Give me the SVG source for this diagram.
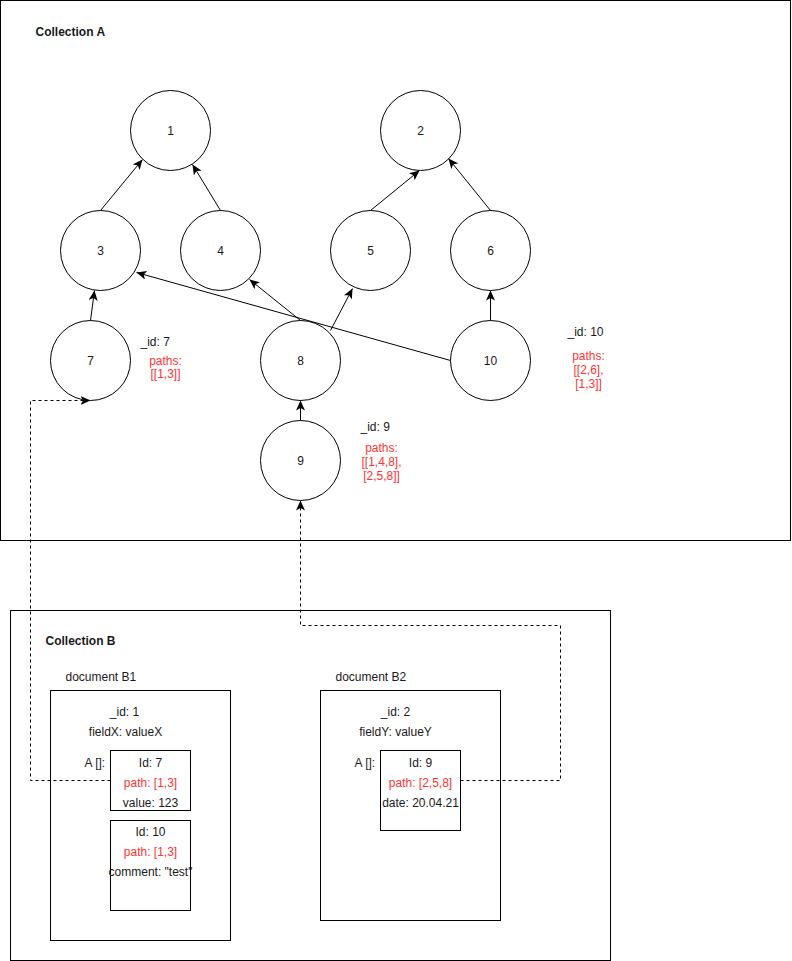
<svg xmlns="http://www.w3.org/2000/svg" width="792" height="961" viewBox="0 0 792 961">
<style>
  .box{fill:#fff;stroke:#000;stroke-width:1}
  .node{fill:#fff;stroke:#000;stroke-width:1}
  .t{font-family:"Liberation Sans",Arial,sans-serif;font-size:12px;fill:#1a1a1a}
  .b{font-weight:bold}
  .m{text-anchor:middle}
  .red{fill:#FF3333}
  .edge{fill:none;stroke:#000;stroke-width:1}
  .dash{fill:none;stroke:#000;stroke-width:1;stroke-dasharray:3 3}
</style>
<defs>
  <marker id="arr" markerUnits="userSpaceOnUse" markerWidth="10" markerHeight="9" viewBox="0 0 10 9" refX="10" refY="4.5" orient="auto">
    <path d="M0,0 L10,4.5 L0,9 L2.5,4.5 Z" fill="#000"/>
  </marker>
</defs>
<rect width="792" height="961" fill="#fff"/>
<g transform="translate(0.5,0.5)">
  <g id="collectionA">
    <rect class="box" x="0" y="0" width="790" height="540"/>
    <text class="t b" x="35" y="35">Collection A</text>
  </g>
  <g id="collectionB">
    <rect class="box" x="10" y="610" width="600" height="350"/>
    <text class="t b" x="45" y="644">Collection B</text>
  </g>

  <g id="node1"><circle class="node" cx="170" cy="130" r="40"/><text class="t m" x="170" y="134">1</text></g>
  <g id="node2"><circle class="node" cx="420" cy="130" r="40"/><text class="t m" x="420" y="134">2</text></g>
  <g id="node3"><circle class="node" cx="100" cy="250" r="40"/><text class="t m" x="100" y="254">3</text></g>
  <g id="node4"><circle class="node" cx="220" cy="250" r="40"/><text class="t m" x="220" y="254">4</text></g>
  <g id="node5"><circle class="node" cx="370" cy="250" r="40"/><text class="t m" x="370" y="254">5</text></g>
  <g id="node6"><circle class="node" cx="490" cy="250" r="40"/><text class="t m" x="490" y="254">6</text></g>
  <g id="node7"><circle class="node" cx="90" cy="360" r="40"/><text class="t m" x="90" y="364">7</text></g>
  <g id="node8"><circle class="node" cx="300" cy="360" r="40"/><text class="t m" x="300" y="364">8</text></g>
  <g id="node10"><circle class="node" cx="490" cy="360" r="40"/><text class="t m" x="490" y="364">10</text></g>
  <g id="node9"><circle class="node" cx="300" cy="460" r="40"/><text class="t m" x="300" y="464">9</text></g>

  <g id="label7">
    <text class="t" x="140" y="345">_id: 7</text>
    <text class="t m red" x="165" y="364">paths:</text>
    <text class="t m red" x="165" y="377">[[1,3]]</text>
  </g>
  <g id="label10">
    <text class="t" x="567" y="335">_id: 10</text>
    <text class="t m red" x="588" y="359">paths:</text>
    <text class="t m red" x="588" y="373">[[2,6],</text>
    <text class="t m red" x="588" y="387">[1,3]]</text>
  </g>
  <g id="label9">
    <text class="t" x="360" y="430">_id: 9</text>
    <text class="t m red" x="381" y="451">paths:</text>
    <text class="t m red" x="381" y="465">[[1,4,8],</text>
    <text class="t m red" x="381" y="479">[2,5,8]]</text>
  </g>

  <g id="docB1">
    <text class="t" x="65" y="680">document B1</text>
    <rect class="box" x="50" y="690" width="180" height="250"/>
    <text class="t m" x="124" y="715">_id: 1</text>
    <text class="t m" x="125" y="735">fieldX: valueX</text>
    <text class="t" x="84" y="766">A []:</text>
  </g>
  <g id="itemB1a">
    <rect class="box" x="110" y="750" width="80" height="60"/>
    <text class="t m" x="150" y="766">Id: 7</text>
    <text class="t m red" x="150" y="786">path: [1,3]</text>
    <text class="t m" x="150" y="806">value: 123</text>
  </g>
  <g id="itemB1b">
    <rect class="box" x="110" y="820" width="80" height="90"/>
    <text class="t m" x="150" y="835">Id: 10</text>
    <text class="t m red" x="150" y="855">path: [1,3]</text>
    <text class="t m" x="150" y="875">comment: "test"</text>
  </g>
  <g id="docB2">
    <text class="t" x="335" y="680">document B2</text>
    <rect class="box" x="320" y="690" width="180" height="230"/>
    <text class="t m" x="395" y="715">_id: 2</text>
    <text class="t m" x="395" y="735">fieldY: valueY</text>
    <text class="t" x="354" y="766">A []:</text>
  </g>
  <g id="itemB2a">
    <rect class="box" x="380" y="750" width="80" height="80"/>
    <text class="t m" x="420" y="766">Id: 9</text>
    <text class="t m red" x="420" y="786">path: [2,5,8]</text>
    <text class="t m" x="420" y="806">date: 20.04.21</text>
  </g>

  <g id="connectors">
    <line class="edge" x1="100" y1="210" x2="142" y2="159" marker-end="url(#arr)"/>
    <line class="edge" x1="220" y1="210" x2="192" y2="164" marker-end="url(#arr)"/>
    <line class="edge" x1="370" y1="210" x2="419" y2="170" marker-end="url(#arr)"/>
    <line class="edge" x1="490" y1="210" x2="448" y2="158" marker-end="url(#arr)"/>
    <line class="edge" x1="90" y1="320" x2="94" y2="290" marker-end="url(#arr)"/>
    <line class="edge" x1="450" y1="360" x2="136" y2="272" marker-end="url(#arr)"/>
    <line class="edge" x1="300" y1="320" x2="249" y2="279" marker-end="url(#arr)"/>
    <line class="edge" x1="330" y1="330" x2="352" y2="288" marker-end="url(#arr)"/>
    <line class="edge" x1="490" y1="320" x2="490" y2="290" marker-end="url(#arr)"/>
    <line class="edge" x1="300" y1="420" x2="300" y2="400" marker-end="url(#arr)"/>
    <path class="dash" d="M110,780 H30 V400 H90" marker-end="url(#arr)"/>
    <path class="dash" d="M460,780 H560 V625 H300 V500" marker-end="url(#arr)"/>
  </g>
</g>
</svg>
